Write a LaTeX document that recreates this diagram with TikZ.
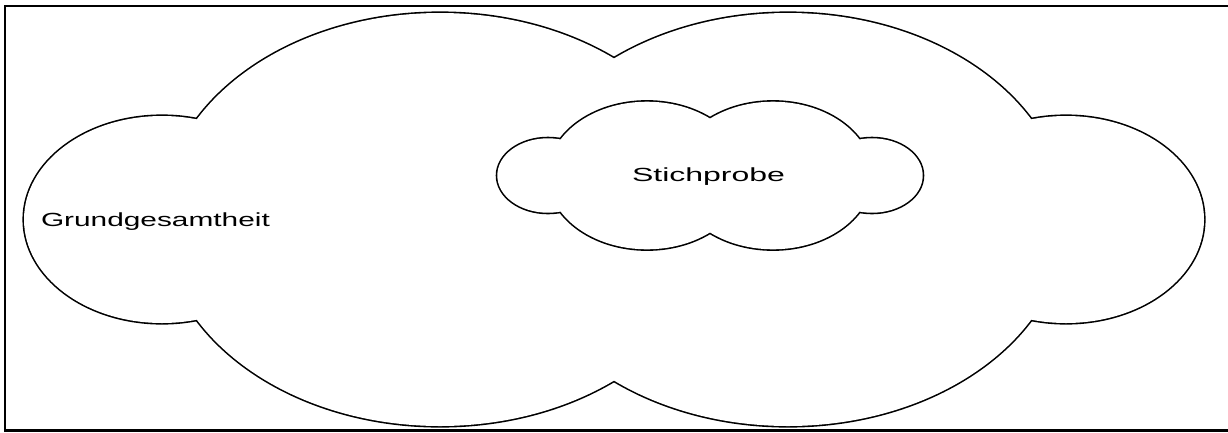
\documentclass[tikz,border=0pt]{standalone}
\usepackage{fontspec}
\setmainfont{Liberation Sans}
\begin{document}
\begin{tikzpicture}[x=1pt,y=-1pt,
  frameline/.style={line width=2.2pt,draw=black},
  puffstroke/.style={line width=3.2pt,draw=black},
  pufffill/.style={fill=white},
  lbl/.style={inner sep=0pt,outer sep=0pt,anchor=base west,font=\fontsize{19}{22}\selectfont}]
\useasboundingbox (0,0) rectangle (1228,432);
\fill[white] (0,0) rectangle (1228,432);
\draw[frameline] (1232,6) -- (5,6) -- (5,430.5) -- (1232,430.5);
% big cloud (Grundgesamtheit)
\foreach \cx/\rx/\ry in {162/138/103.5, 440/278/206.5, 788/278/206.5, 1066/138/103.5}
  \draw[puffstroke] (\cx,219.5) ellipse [x radius=\rx pt, y radius=\ry pt];
\foreach \cx/\rx/\ry in {162/138/103.5, 440/278/206.5, 788/278/206.5, 1066/138/103.5}
  \fill[pufffill] (\cx,219.5) ellipse [x radius=\rx pt, y radius=\ry pt];
% small cloud (Stichprobe)
\foreach \cx/\rx/\ry in {548/50.7/37.2, 647/99/73.8, 773/99/73.8, 872/50.7/37.2}
  \draw[puffstroke] (\cx,175.5) ellipse [x radius=\rx pt, y radius=\ry pt];
\foreach \cx/\rx/\ry in {548/50.7/37.2, 647/99/73.8, 773/99/73.8, 872/50.7/37.2}
  \fill[pufffill] (\cx,175.5) ellipse [x radius=\rx pt, y radius=\ry pt];
\node[lbl] (grund) at (41,226.7) {\scalebox{1.57}[1]{Grundgesamtheit}};
\node[lbl] (stich) at (632,181) {\scalebox{1.685}[1]{Stichprobe}};
\end{tikzpicture}
\end{document}
